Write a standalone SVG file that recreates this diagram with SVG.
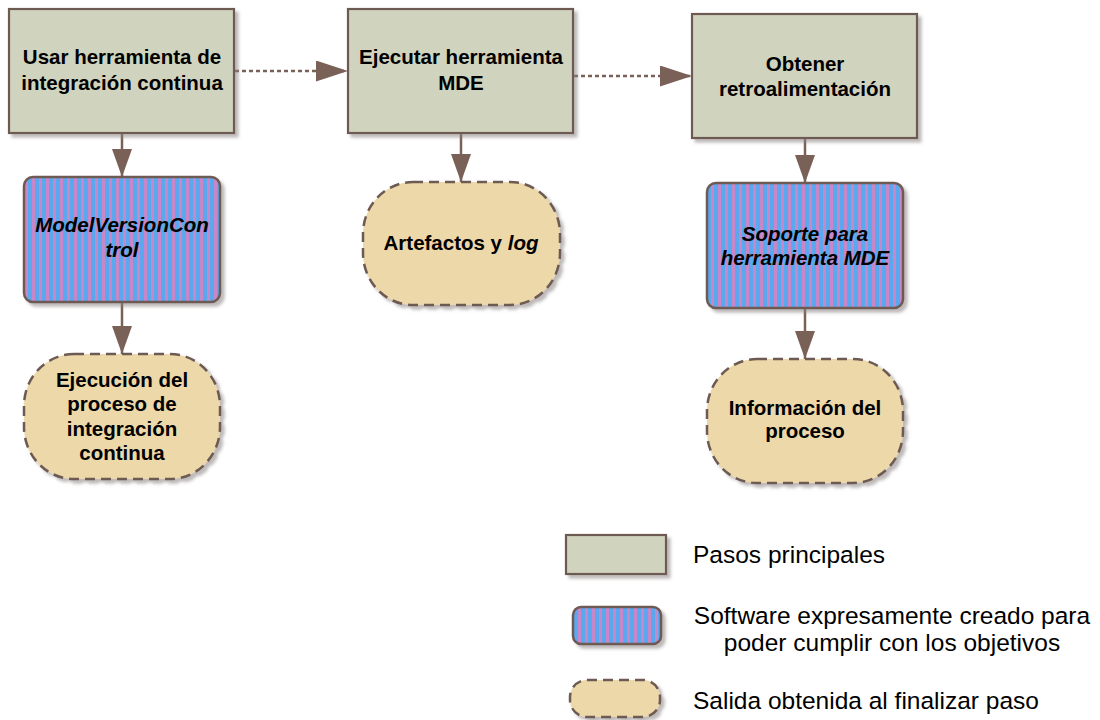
<svg xmlns="http://www.w3.org/2000/svg" width="1100" height="720" viewBox="0 0 1100 720">
<defs>
<style>
.step{fill:#d0d3bd;stroke:#6d5a53;stroke-width:2.2}
.sw{fill:url(#stripes);stroke:#6d5a53;stroke-width:2.5}
.out{fill:#ecd8a9;stroke:#6d5a53;stroke-width:2.5;stroke-dasharray:10 6}
.t{font-family:"Liberation Sans",Arial,sans-serif;font-weight:bold;font-size:20.5px;fill:#000;text-anchor:middle}
.ti{font-style:italic}
.lg{font-family:"Liberation Sans",Arial,sans-serif;font-size:24.5px;fill:#000}
.solid{stroke:#7a6158;stroke-width:2.5;fill:none}
.dot{stroke:#7a6158;stroke-width:2.5;fill:none;stroke-dasharray:4 3}
</style>
<pattern id="stripes" patternUnits="userSpaceOnUse" width="7" height="10">
<rect x="0" y="0" width="4" height="10" fill="#5aa9ee"/>
<rect x="4" y="0" width="3" height="10" fill="#c887c8"/>
</pattern>
<filter id="sh" x="-10%" y="-10%" width="130%" height="130%">
<feDropShadow dx="3.5" dy="3.5" stdDeviation="1.5" flood-color="#8a8282" flood-opacity="0.55"/>
</filter>
<marker id="ah" markerUnits="userSpaceOnUse" markerWidth="30" markerHeight="22" refX="28" refY="10" orient="auto">
<path d="M0,0 L28,10 L0,20 Z" fill="#7a6158"/>
</marker>
<marker id="ahd" markerUnits="userSpaceOnUse" markerWidth="34" markerHeight="22" refX="32" refY="10.5" orient="auto">
<path d="M0,0 L32,10.5 L0,21 Z" fill="#7a6158"/>
</marker>
</defs>
<rect width="1100" height="720" fill="#ffffff"/>

<g id="connectors">
<line class="dot" x1="235" y1="71" x2="348" y2="71" marker-end="url(#ahd)"/>
<line class="dot" x1="574" y1="76" x2="692" y2="76" marker-end="url(#ahd)"/>
<line class="solid" x1="122" y1="134" x2="122" y2="177" marker-end="url(#ah)"/>
<line class="solid" x1="122" y1="303" x2="122" y2="354" marker-end="url(#ah)"/>
<line class="solid" x1="461" y1="134" x2="461" y2="182" marker-end="url(#ah)"/>
<line class="solid" x1="805" y1="139" x2="805" y2="183" marker-end="url(#ah)"/>
<line class="solid" x1="805" y1="309" x2="805" y2="359" marker-end="url(#ah)"/>
</g>

<g id="n-usar">
<rect class="step" x="9" y="9" width="225" height="124" filter="url(#sh)"/>
<text class="t" x="122" y="64">Usar herramienta de</text>
<text class="t" x="122" y="90">integración continua</text>
</g>

<g id="n-ejecutar">
<rect class="step" x="348" y="9" width="225" height="124" filter="url(#sh)"/>
<text class="t" x="461" y="64">Ejecutar herramienta</text>
<text class="t" x="461" y="90">MDE</text>
</g>

<g id="n-obtener">
<rect class="step" x="692" y="14" width="225" height="124" filter="url(#sh)"/>
<text class="t" x="805" y="71">Obtener</text>
<text class="t" x="805" y="96">retroalimentación</text>
</g>

<g id="n-mvc">
<rect class="sw" x="24" y="177" width="196" height="125" rx="9" ry="9" filter="url(#sh)"/>
<text class="t ti" x="122" y="232">ModelVersionCon</text>
<text class="t ti" x="122" y="257">trol</text>
</g>

<g id="n-ejecucion">
<rect class="out" x="24" y="354" width="196" height="125" rx="50" ry="52" filter="url(#sh)"/>
<text class="t" x="122" y="387">Ejecución del</text>
<text class="t" x="122" y="411">proceso de</text>
<text class="t" x="122" y="436">integración</text>
<text class="t" x="122" y="460">continua</text>
</g>

<g id="n-artefactos">
<rect class="out" x="363" y="182" width="197" height="123" rx="50" ry="52" filter="url(#sh)"/>
<text class="t" x="461" y="250">Artefactos y <tspan class="ti">log</tspan></text>
</g>

<g id="n-soporte">
<rect class="sw" x="707" y="183" width="196" height="125" rx="9" ry="9" filter="url(#sh)"/>
<text class="t ti" x="805" y="241">Soporte para</text>
<text class="t ti" x="805" y="265">herramienta MDE</text>
</g>

<g id="n-informacion">
<rect class="out" x="707" y="359" width="196" height="124" rx="50" ry="52" filter="url(#sh)"/>
<text class="t" x="805" y="415">Información del</text>
<text class="t" x="805" y="438">proceso</text>
</g>

<g id="legend">
<rect class="step" x="566" y="535" width="100" height="39" filter="url(#sh)"/>
<text class="lg" x="693" y="563">Pasos principales</text>
<rect class="sw" x="573" y="607" width="88" height="37" rx="8" ry="8" filter="url(#sh)"/>
<text class="lg" x="892" y="624" text-anchor="middle">Software expresamente creado para</text>
<text class="lg" x="892" y="651" text-anchor="middle">poder cumplir con los objetivos</text>
<rect class="out" x="570" y="680" width="90" height="37" rx="17" ry="17" filter="url(#sh)"/>
<text class="lg" x="693" y="709">Salida obtenida al finalizar paso</text>
</g>
</svg>
